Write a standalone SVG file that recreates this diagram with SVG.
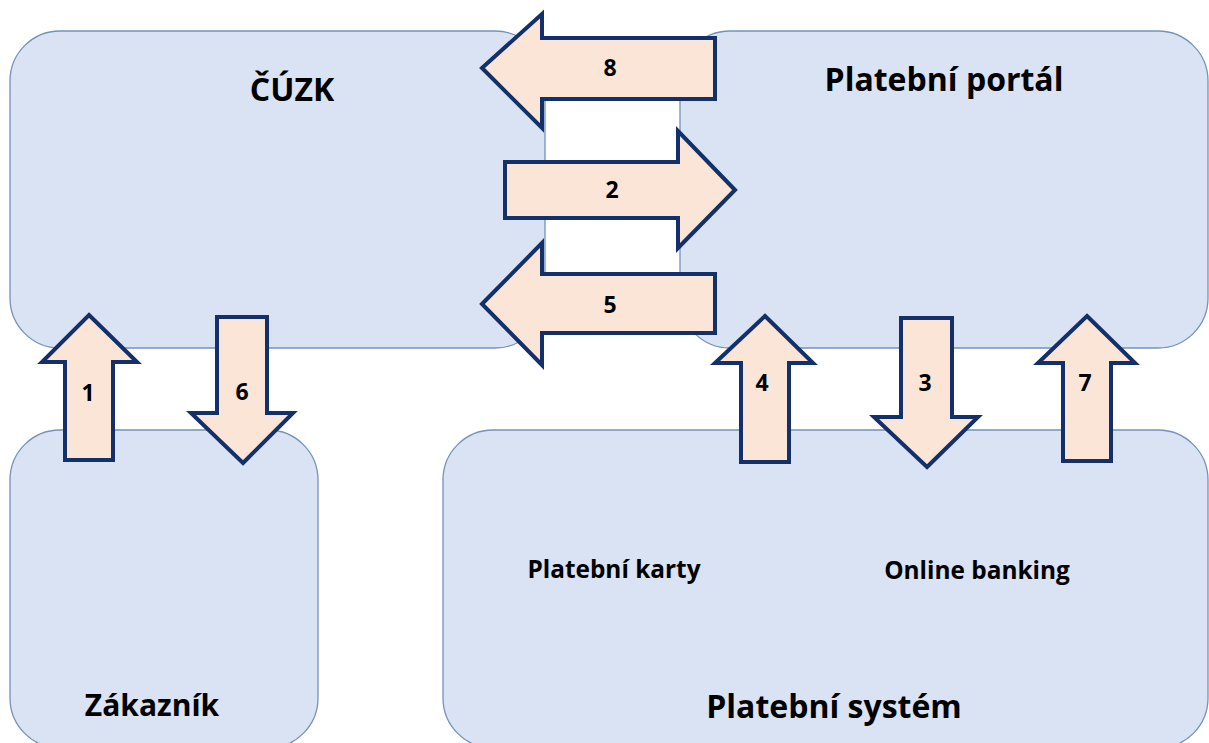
<svg xmlns="http://www.w3.org/2000/svg" width="1209" height="743" viewBox="0 0 1209 743">
<style>
.box{fill:#dae3f3;stroke:#7393b9;stroke-width:1.3}
.arr{fill:#fbe5d6;stroke:#13306a;stroke-width:4;stroke-linejoin:miter}
.t{font-family:"Open Sans","Liberation Sans",sans-serif;font-weight:700;fill:#000;text-anchor:middle}
.big{font-size:32px}
.mid{font-size:24.4px}
.num{font-size:23px}
</style>
<rect width="1209" height="743" fill="#fff"/>
<g id="cuzk">
<rect class="box" x="10" y="31" width="535" height="317" rx="50" ry="50"/>
<text class="t big" x="292" y="101">ČÚZK</text>
</g>
<g id="platebni-portal">
<rect class="box" x="680" y="31" width="528" height="317" rx="50" ry="50"/>
<text class="t big" x="944" y="91">Platební portál</text>
</g>
<g id="zakaznik">
<rect class="box" x="10" y="430" width="308" height="318" rx="50" ry="50"/>
<text class="t big" x="152" y="716" style="font-size:30px">Zákazník</text>
</g>
<g id="platebni-system">
<rect class="box" x="443" y="430" width="765" height="318" rx="50" ry="50"/>
<text class="t big" x="834" y="718">Platební systém</text>
<text class="t mid" x="614" y="578">Platební karty</text>
<text class="t mid" x="977" y="579">Online banking</text>
</g>
<g id="connectors">
<polygon class="arr" points="482,68 542,14 542,38 715,38 715,99 542,99 542,128"/>
<text class="t num" x="610" y="76">8</text>
<polygon class="arr" points="735,190 678,131 678,162 505,162 505,218 678,218 678,248"/>
<text class="t num" x="612" y="198">2</text>
<polygon class="arr" points="482,304 542,243 542,274 715,274 715,333 542,333 542,365"/>
<text class="t num" x="610" y="313">5</text>
<polygon class="arr" points="89,315 137,362 113,362 113,460 65,460 65,362 42,362"/>
<text class="t num" x="88" y="401">1</text>
<polygon class="arr" points="243,463 293,413 267,413 267,317 217,317 217,413 191,413"/>
<text class="t num" x="242" y="400">6</text>
<polygon class="arr" points="765,316 813,363 789,363 789,462 741,462 741,363 715,363"/>
<text class="t num" x="762" y="391">4</text>
<polygon class="arr" points="927,467 978,417 952,417 952,318 901,318 901,417 874,417"/>
<text class="t num" x="925" y="391">3</text>
<polygon class="arr" points="1087,316 1135,363 1111,363 1111,461 1063,461 1063,363 1038,363"/>
<text class="t num" x="1085" y="391">7</text>
</g>
</svg>
